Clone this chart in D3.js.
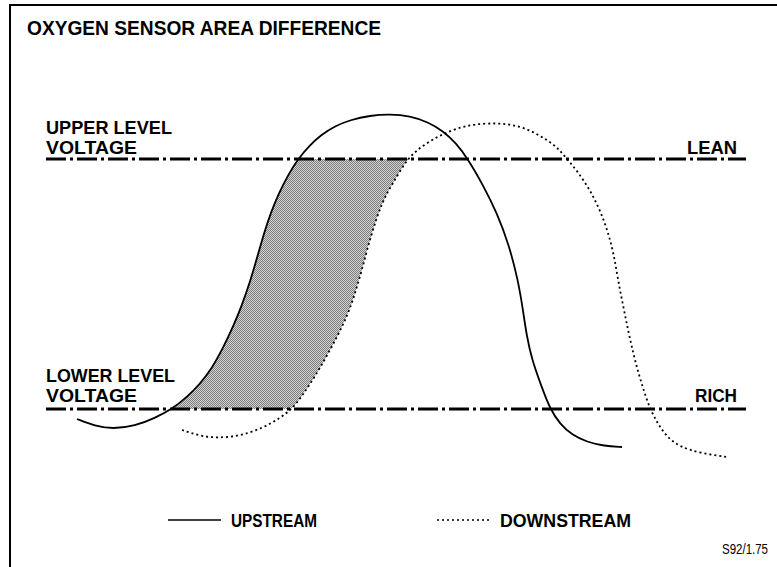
<!DOCTYPE html>
<html>
<head>
<meta charset="utf-8">
<script src="https://cdn.jsdelivr.net/npm/d3@7"></script>
<style>
  html, body { margin: 0; padding: 0; background: #fff; }
  svg { display: block; }
  text { font-family: "Liberation Sans", Arial, Helvetica, sans-serif; fill: #000; }
</style>
</head>
<body>
<svg id="chart" width="777" height="567"></svg>
<script>
// Sensor output samples: time (ms) and voltage (mV)
const upstreamTime = [31, 49, 67, 89, 109, 126, 141, 154, 166, 176, 187, 196, 204, 211, 218, 225, 233, 242, 252, 263, 275, 289, 304, 324, 344, 364, 382, 397, 410, 422, 437, 451, 463, 472, 477, 480.5, 486, 495, 504, 514, 526, 541, 558, 576];
const upstreamMv   = [230, 216, 210, 216, 232, 250, 274, 300, 332, 368, 414, 458, 504, 552, 602, 644, 682, 718, 750, 776, 798, 816, 828, 837, 840, 836, 824, 806, 782, 750, 698, 642, 578, 508, 448, 398, 348, 298, 250, 220, 198, 184, 176, 174];

const downstreamTime = [136, 154, 171, 194, 217, 234, 246, 256, 264, 274, 284, 293, 301, 307, 312, 317, 321, 326, 331, 336, 341, 347, 354, 362, 371, 384, 397, 412, 429, 451, 469, 486, 501, 512, 521, 532, 544, 554, 562, 568, 572, 577, 582, 587, 592, 598, 604, 612, 621, 634, 654, 681];
const downstreamMv   = [208, 196, 192, 196, 212, 232, 250, 276, 300, 332, 368, 402, 436, 468, 502, 536, 568, 602, 634, 660, 682, 702, 726, 750, 768, 786, 800, 812, 820, 822, 818, 806, 788, 772, 750, 724, 688, 648, 604, 558, 508, 458, 408, 364, 324, 286, 250, 220, 194, 174, 162, 154];

// Switching thresholds
const levelMv     = [750, 250];
const levelLabels = [["UPPER LEVEL", "VOLTAGE"], ["LOWER LEVEL", "VOLTAGE"]];
const levelTags   = ["LEAN", "RICH"];

const seriesNames = ["UPSTREAM", "DOWNSTREAM"];
const titleText = "OXYGEN SENSOR AREA DIFFERENCE";
const refCode = "S92/1.75";

const svg = d3.select("#chart");

const x = d3.scaleLinear().domain([0, 700]).range([46, 746]);
const y = d3.scaleLinear().domain([0, 1000]).range([534, 34]);

const upstream = upstreamTime.map((t, i) => ({ t, v: upstreamMv[i] }));
const downstream = downstreamTime.map((t, i) => ({ t, v: downstreamMv[i] }));

const line = d3.line()
  .x(d => x(d.t))
  .y(d => y(d.v))
  .curve(d3.curveBasis);

// Dithered grey fill for the area between the two signals
const defs = svg.append("defs");
const pat = defs.append("pattern")
  .attr("id", "dither")
  .attr("patternUnits", "userSpaceOnUse")
  .attr("width", 2).attr("height", 2);
pat.append("rect").attr("width", 2).attr("height", 2).attr("fill", "#d2d2d2");
pat.append("rect").attr("x", 0).attr("y", 0).attr("width", 1).attr("height", 1).attr("fill", "#7e7e7e");
pat.append("rect").attr("x", 1).attr("y", 1).attr("width", 1).attr("height", 1).attr("fill", "#7e7e7e");

defs.append("clipPath").attr("id", "band")
  .append("rect")
  .attr("x", 0).attr("width", 777)
  .attr("y", y(levelMv[0]))
  .attr("height", y(levelMv[1]) - y(levelMv[0]));

// Frame
svg.append("path")
  .attr("d", "M10,567 L10,5 L777,5")
  .attr("fill", "none")
  .attr("stroke", "#000")
  .attr("stroke-width", 2);

// Title
svg.append("text")
  .attr("x", 27).attr("y", 35)
  .attr("font-size", 21).attr("font-weight", "bold")
  .attr("textLength", 354).attr("lengthAdjust", "spacingAndGlyphs")
  .text(titleText);

// Area difference: rising edge of upstream to rising edge of downstream
const upPeak = d3.maxIndex(upstream, d => d.v);
const downPeak = d3.maxIndex(downstream, d => d.v);
const upRise = upstream.slice(0, upPeak + 1);
const downRise = downstream.slice(0, downPeak + 1).reverse();
const areaPath = line(upRise) + "L" + line(downRise).slice(1) + "Z";
svg.append("path")
  .attr("d", areaPath)
  .attr("fill", "url(#dither)")
  .attr("clip-path", "url(#band)");

// Threshold lines
svg.selectAll(".level")
  .data(levelMv)
  .join("line")
  .attr("class", "level")
  .attr("x1", x(0)).attr("x2", x(700))
  .attr("y1", d => y(d)).attr("y2", d => y(d))
  .attr("stroke", "#000")
  .attr("stroke-width", 3)
  .attr("stroke-dasharray", "20,4,3,4");

// Threshold labels
const lvlSizes = [[126, 91], [129, 91]];
const lvlGap = [5, 7];
levelLabels.forEach((lines, i) => {
  lines.forEach((s, j) => {
    svg.append("text")
      .attr("x", 46)
      .attr("y", y(levelMv[i]) - lvlGap[i] - (lines.length - 1 - j) * 19.6)
      .attr("font-size", 17.5).attr("font-weight", "bold")
      .attr("textLength", lvlSizes[i][j]).attr("lengthAdjust", "spacingAndGlyphs")
      .text(s);
  });
});
const tagSizes = [50, 42];
levelTags.forEach((s, i) => {
  svg.append("text")
    .attr("x", 737)
    .attr("y", y(levelMv[i]) - lvlGap[i])
    .attr("text-anchor", "end")
    .attr("font-size", 17.5).attr("font-weight", "bold")
    .attr("textLength", tagSizes[i]).attr("lengthAdjust", "spacingAndGlyphs")
    .text(s);
});

// Signal curves
const dashes = [null, "2,3"];
[upstream, downstream].forEach((data, i) => {
  svg.append("path")
    .attr("d", line(data))
    .attr("fill", "none")
    .attr("stroke", "#000")
    .attr("stroke-width", 1.8)
    .attr("stroke-dasharray", dashes[i]);
});

// Legend
const legendX = [168, 437];
const legendW = [86, 131];
seriesNames.forEach((name, i) => {
  svg.append("line")
    .attr("x1", legendX[i]).attr("x2", legendX[i] + 53)
    .attr("y1", 520).attr("y2", 520)
    .attr("stroke", "#000")
    .attr("stroke-width", 1.6)
    .attr("stroke-dasharray", dashes[i]);
  svg.append("text")
    .attr("x", legendX[i] + 63).attr("y", 527)
    .attr("font-size", 19).attr("font-weight", "bold")
    .attr("textLength", legendW[i]).attr("lengthAdjust", "spacingAndGlyphs")
    .text(name);
});

svg.append("text")
  .attr("x", 768).attr("y", 554)
  .attr("text-anchor", "end")
  .attr("font-size", 14)
  .attr("textLength", 46).attr("lengthAdjust", "spacingAndGlyphs")
  .text(refCode);
</script>
</body>
</html>
